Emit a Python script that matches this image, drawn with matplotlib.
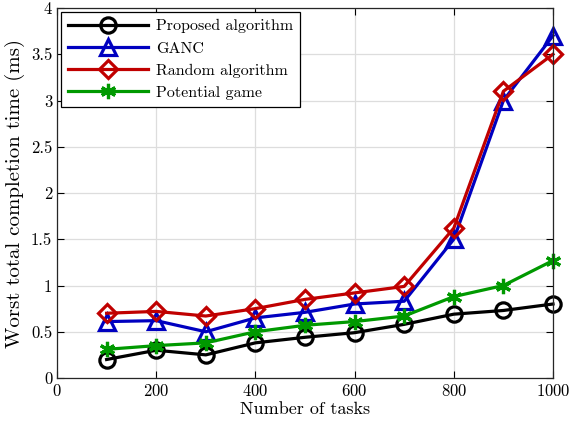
import matplotlib
matplotlib.use('Agg')
import matplotlib.pyplot as plt

plt.rcParams['font.family'] = 'serif'
plt.rcParams['font.serif'] = ['cmr10', 'DejaVu Serif']
plt.rcParams['mathtext.fontset'] = 'cm'
plt.rcParams['axes.formatter.use_mathtext'] = True

# Worst-case completion time vs number of tasks
tasks = [100, 200, 300, 400, 500, 600, 700, 800, 900, 1000]
proposed = [0.20, 0.30, 0.25, 0.38, 0.44, 0.49, 0.58, 0.69, 0.73, 0.80]
ganc = [0.61, 0.62, 0.50, 0.65, 0.71, 0.80, 0.83, 1.50, 3.00, 3.70]
random_alg = [0.70, 0.72, 0.67, 0.75, 0.85, 0.92, 0.99, 1.62, 3.10, 3.50]
potential = [0.31, 0.35, 0.38, 0.50, 0.57, 0.61, 0.67, 0.88, 1.00, 1.27]

fig = plt.figure(figsize=(5.69, 4.24), dpi=100)
ax = fig.add_axes([57/569, 46/424, 496/569, 370/424])

lw = 2.3
ax.plot(tasks, proposed, color='black', lw=lw, marker='o', ms=11,
        mfc='none', mew=2.3, label='Proposed algorithm', clip_on=False)
ax.plot(tasks, ganc, color='#0000c0', lw=lw, marker='^', ms=12,
        mfc='none', mew=2.3, label='GANC', clip_on=False)
ax.plot(tasks, random_alg, color='#c00000', lw=lw, marker='D', ms=9.5,
        mfc='none', mew=2.3, label='Random algorithm', clip_on=False)
ax.plot(tasks, potential, color='#009900', lw=lw, marker=(6, 2, 0), ms=11,
        mew=2.3, label='Potential game', clip_on=False)

ax.set_xlim(0, 1000)
ax.set_ylim(0, 4)
ax.set_xticks(range(0, 1001, 200))
ax.set_yticks([0, 0.5, 1, 1.5, 2, 2.5, 3, 3.5, 4])
ax.set_yticklabels(['0', '0.5', '1', '1.5', '2', '2.5', '3', '3.5', '4'])
ax.grid(True, color='#dddddd', lw=0.9)
ax.set_axisbelow(True)
ax.tick_params(direction='in', top=True, right=True, labelsize=12, length=5)
for s in ax.spines.values():
    s.set_linewidth(0.9)
    s.set_color('#262626')

ax.set_xlabel('Number of tasks', fontsize=13, labelpad=2)
ax.set_ylabel('Worst total completion time (ms)', fontsize=15, labelpad=4)

leg = ax.legend(loc='upper left', fontsize=11.5, fancybox=False,
                edgecolor='black', framealpha=1, borderaxespad=0.25,
                handlelength=5.0, labelspacing=0.5, borderpad=0.45,
                handletextpad=0.5)
leg.get_frame().set_linewidth(0.9)

fig.savefig('out.png', dpi=100)
